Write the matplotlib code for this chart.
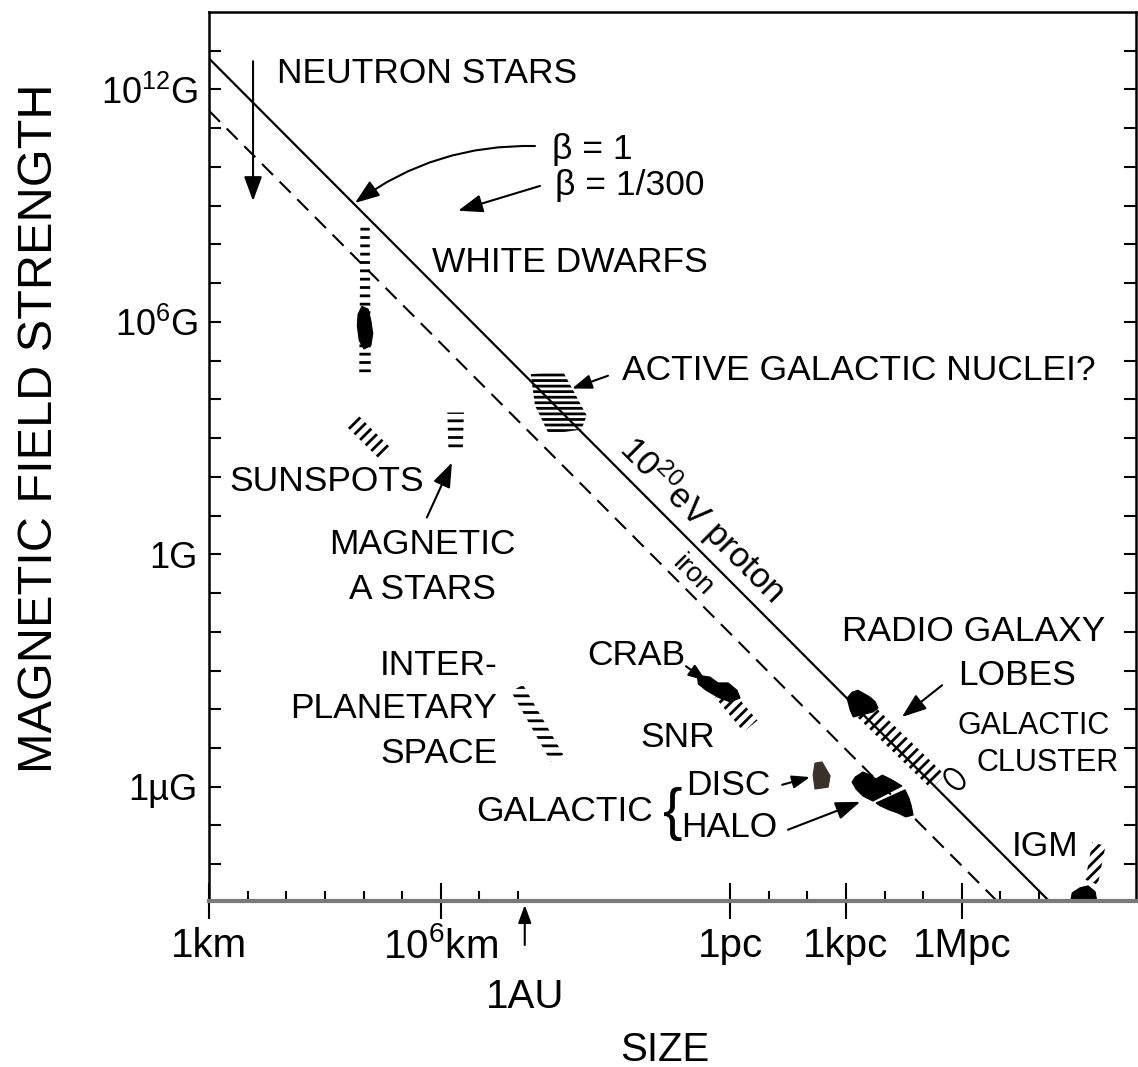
import matplotlib
matplotlib.use('Agg')
import matplotlib.pyplot as plt
import numpy as np
from matplotlib.patches import Polygon, Ellipse

plt.rcParams['font.family'] = ['Liberation Sans', 'DejaVu Sans']
plt.rcParams['mathtext.fontset'] = 'custom'
plt.rcParams['mathtext.rm'] = 'Liberation Sans'
plt.rcParams['mathtext.it'] = 'Liberation Sans:italic'
plt.rcParams['mathtext.bf'] = 'Liberation Sans:bold'
plt.rcParams['hatch.linewidth'] = 2.0

# everything below is in log10(size / km) and log10(B / gauss)
KM_PER_PC = 3.0857e13
KM_PER_AU = 1.496e8

xtick_km = [1, 1e6, KM_PER_PC, 1e3 * KM_PER_PC, 1e6 * KM_PER_PC]
xtick_labels = ['1km', r'$\mathregular{10^6}$km', '1pc', '1kpc', '1Mpc']
xminor_km = [1e1, 1e2, 1e3, 1e4, 1e5, 1e7, 1e8,
             1e1 * KM_PER_PC, 1e2 * KM_PER_PC, 1e4 * KM_PER_PC, 1e5 * KM_PER_PC,
             1e7 * KM_PER_PC, 1e8 * KM_PER_PC]
ytick_gauss = [1e12, 1e6, 1, 1e-6]
ytick_labels = [r'$\mathregular{10^{12}}$G', r'$\mathregular{10^6}$G', '1G', '1\u00b5G']

# Hillas condition lines (B ~ 1/R), end points
line_logR = [0.0, 24.0]
proton_logB = [12.8, -11.2]
iron_logB = [11.45, -12.55]

# objects: outlines (logR, logB)
wd_hatch = [(3.92, 8.48), (4.16, 8.48), (4.19, 4.69), (3.89, 4.69)]
wd_core = [(3.96, 6.40), (4.12, 6.33), (4.19, 6.03), (4.24, 5.70), (4.19, 5.39),
           (4.01, 5.30), (3.89, 5.52), (3.84, 5.90), (3.86, 6.20)]
sunspots = [(3.85, 3.60), (4.73, 2.72), (4.44, 2.43), (3.55, 3.31)]
a_stars = [(6.17, 3.66), (6.60, 3.66), (6.57, 2.68), (6.20, 2.68)]
interplanetary = [(8.13, -3.37), (9.17, -5.17), (8.85, -5.35), (7.82, -3.54)]
agn = [(8.33, 4.65), (9.16, 4.73), (9.78, 3.58), (9.64, 3.22), (8.80, 3.10), (8.44, 3.84)]
crab = [(12.64, -3.12), (12.97, -3.17), (13.18, -3.32), (13.44, -3.32), (13.67, -3.51),
        (13.75, -3.71), (13.49, -3.81), (13.18, -3.69), (12.87, -3.51), (12.67, -3.35)]
snr = [(13.10, -3.69), (13.50, -3.47), (14.20, -4.29), (13.84, -4.58)]
disc = [(15.69, -5.39), (15.87, -5.36), (16.08, -5.72), (16.03, -6.01), (15.69, -6.06), (15.64, -5.70)]
halo_a = [(16.73, -5.75), (16.93, -5.62), (17.12, -5.70), (17.27, -5.80), (17.43, -5.70),
          (17.64, -5.80), (17.81, -5.90), (17.94, -5.98), (17.19, -6.37), (16.93, -6.24),
          (16.75, -6.06), (16.65, -5.88)]
halo_b = [(18.02, -6.08), (18.12, -6.29), (18.18, -6.49), (18.23, -6.73), (18.04, -6.78),
          (17.84, -6.68), (17.61, -6.60), (17.37, -6.49), (17.27, -6.42)]
lobes_core = [(16.52, -3.71), (16.65, -3.56), (16.80, -3.51), (16.93, -3.58), (17.12, -3.69),
              (17.25, -3.81), (17.32, -3.97), (17.19, -4.07), (16.68, -4.20), (16.60, -4.02)]
lobes_hatch = [(17.09, -3.79), (19.06, -5.70), (18.70, -6.06), (16.73, -4.15)]
cluster_loop = (19.30, -5.80)
igm_hatch = [(22.87, -7.43), (23.21, -7.53), (23.01, -8.53), (22.69, -8.40)]
igm_core = [(22.24, -9.30), (22.35, -8.74), (22.55, -8.61), (22.76, -8.56),
            (22.94, -8.71), (23.05, -9.30)]

fig = plt.figure(figsize=(11.38, 10.67), dpi=100)
ax = fig.add_axes([209 / 1138, 166 / 1067, 927 / 1138, 889 / 1067])
ax.set_xlim(0, 24)
ax.set_ylim(-8.95, 14.0)

ax.plot(line_logR, proton_logB, color='black', lw=1.6, solid_capstyle='butt')
ax.plot(line_logR, iron_logB, color='black', lw=1.5, linestyle=(0, (7.5, 4.5)))


def hatched(pts, pattern):
    ax.add_patch(Polygon(pts, closed=True, fill=False, hatch=pattern,
                         edgecolor='black', lw=0))


def blob(pts, color='black'):
    ax.add_patch(Polygon(pts, closed=True, facecolor=color, edgecolor=color, lw=0.8))


hatched(wd_hatch, '--')
blob(wd_core)
hatched(sunspots, '///')
hatched(a_stars, '--')
hatched(interplanetary, '--')
hatched(agn, '---')
blob(crab)
hatched(snr, '///')
blob(disc, '#383228')
blob(halo_a)
blob(halo_b)
blob(lobes_core)
hatched(lobes_hatch, '///')
ax.add_patch(Ellipse(cluster_loop, 0.62, 0.38, angle=-45, fill=False, lw=1.6, edgecolor='black'))
hatched(igm_hatch, '///')
blob(igm_core)


def arrow(tail, head, scale=25, rad=0.0):
    ax.annotate('', xy=head, xytext=tail,
                arrowprops=dict(arrowstyle='-|>,head_length=0.6,head_width=0.22',
                                mutation_scale=scale, lw=1.5, color='black',
                                shrinkA=0, shrinkB=0,
                                connectionstyle='arc3,rad=%g' % rad))


arrow((1.14, 12.73), (1.14, 9.12))
arrow((8.44, 10.54), (3.78, 9.07), rad=0.17)
arrow((8.57, 9.51), (6.45, 8.87))
arrow((5.64, 0.95), (6.29, 2.37))
arrow((10.33, 4.61), (9.40, 4.28), scale=20)
arrow((12.35, -2.89), (12.87, -3.27), scale=18)
arrow((18.98, -3.38), (17.94, -4.20))
arrow((14.84, -5.95), (15.56, -5.75), scale=18)
arrow((14.99, -7.11), (16.86, -6.39))

fs = 25.5
ax.text(1.76, 12.4, 'NEUTRON STARS', fontsize=fs, va='center')
ax.text(8.88, 10.46, '\u03b2 = 1', fontsize=fs, va='center')
ax.text(8.96, 9.51, '\u03b2 = 1/300', fontsize=fs, va='center')
ax.text(5.77, 7.53, 'WHITE DWARFS', fontsize=fs, va='center')
ax.text(10.69, 4.74, 'ACTIVE GALACTIC NUCLEI?', fontsize=fs, va='center')
ax.text(0.54, 1.88, 'SUNSPOTS', fontsize=fs, va='center')
ax.text(5.52, 0.26, 'MAGNETIC', fontsize=fs, ha='center', va='center')
ax.text(5.52, -0.90, 'A STARS', fontsize=fs, ha='center', va='center')
ax.text(7.46, -2.86, 'INTER-', fontsize=fs, ha='right', va='center')
ax.text(7.46, -3.99, 'PLANETARY', fontsize=fs, ha='right', va='center')
ax.text(7.46, -5.15, 'SPACE', fontsize=fs, ha='right', va='center')
ax.text(11.06, -2.60, 'CRAB', fontsize=fs, ha='center', va='center')
ax.text(12.14, -4.74, 'SNR', fontsize=fs, ha='center', va='center')
ax.text(11.50, -6.65, 'GALACTIC', fontsize=fs, ha='right', va='center')
ax.text(12.01, -6.70, '{', fontsize=42, ha='center', va='center', fontweight='light')
ax.text(13.44, -5.98, 'DISC', fontsize=fs, ha='center', va='center')
ax.text(13.46, -7.04, 'HALO', fontsize=fs, ha='center', va='center')
ax.text(19.81, -1.98, 'RADIO GALAXY', fontsize=fs, ha='center', va='center')
ax.text(20.92, -3.12, 'LOBES', fontsize=fs, ha='center', va='center')
ax.text(21.34, -4.43, 'GALACTIC', fontsize=22, ha='center', va='center')
ax.text(21.70, -5.39, 'CLUSTER', fontsize=22, ha='center', va='center')
ax.text(21.65, -7.55, 'IGM', fontsize=fs, ha='center', va='center')
ax.text(12.79, 0.90, r'$\mathregular{10^{20}}$eV proton', fontsize=25, rotation=-45,
        rotation_mode='anchor', ha='center', va='center')
ax.text(12.51, -0.54, 'iron', fontsize=20, rotation=-45,
        rotation_mode='anchor', ha='center', va='center')

# ticks
ax.set_xticks(np.log10(xtick_km), xtick_labels)
ax.set_xticks(np.log10(xminor_km), minor=True)
yt = np.arange(-8, 14)
ylab = dict(zip(np.log10(ytick_gauss).round().astype(int), ytick_labels))
ax.set_yticks(yt, [ylab.get(v, '') for v in yt])
ax.tick_params(axis='x', which='major', direction='inout', length=26, width=1.5,
               labelsize=29, pad=6, top=False)
ax.tick_params(axis='x', which='minor', direction='in', length=7, width=1.5, top=False)
ax.tick_params(axis='y', which='major', direction='in', length=8.5, width=1.5,
               labelsize=26, pad=8, left=True, right=True)

for s in ax.spines.values():
    s.set_linewidth(1.8)
ax.spines['bottom'].set_color('#7a7a7a')
ax.spines['bottom'].set_linewidth(3)

# 1AU marker below the axis
au = np.log10(KM_PER_AU)
ax.annotate('', xy=(au, -0.0045), xytext=(au, -0.0495),
            xycoords=ax.get_xaxis_transform(), textcoords=ax.get_xaxis_transform(),
            arrowprops=dict(arrowstyle='-|>,head_length=0.6,head_width=0.22',
                            mutation_scale=18, lw=1.5, color='black', shrinkA=0, shrinkB=0),
            annotation_clip=False)
ax.text(au, -0.108, '1AU', transform=ax.get_xaxis_transform(), fontsize=29,
        ha='center', va='center')

fig.text(40 / 1138, 1 - 428 / 1067, 'MAGNETIC FIELD STRENGTH', fontsize=35,
         rotation=90, ha='center', va='center')
fig.text(665 / 1138, 1 - 1050 / 1067, 'SIZE', fontsize=29, ha='center', va='center')

fig.savefig('out.png', dpi=100)
